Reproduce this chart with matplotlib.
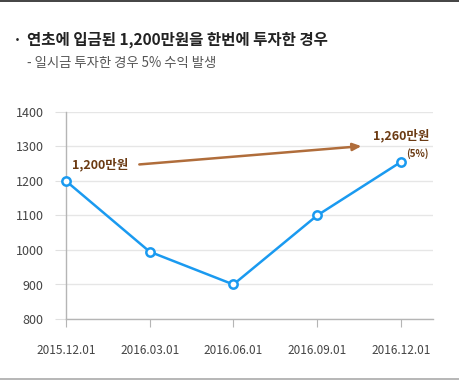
import matplotlib
matplotlib.use("Agg")
import matplotlib.pyplot as plt
from matplotlib.lines import Line2D

plt.rcParams['font.family'] = ['Noto Sans CJK KR', 'DejaVu Sans']

dates = ["2015.12.01", "2016.03.01", "2016.06.01", "2016.09.01", "2016.12.01"]
values = [1200, 995, 900, 1100, 1255]
yticks = [800, 900, 1000, 1100, 1200, 1300, 1400]
title = "연초에 입금된 1,200만원을 한번에 투자한 경우"
subtitle = "- 일시금 투자한 경우 5% 수익 발생"
start_label = "1,200만원"
end_label = "1,260만원"
pct_label = "(5%)"

fig = plt.figure(figsize=(4.6, 3.8), dpi=100)
ax = fig.add_axes([66/460, 1-319/380, (433-66)/460, (319-112)/380])

x = list(range(len(dates)))
ax.plot(x, values, color='#1a9af0', lw=1.8, marker='o', ms=6,
        mfc='white', mec='#1a9af0', mew=1.8, zorder=5, clip_on=False)

ax.set_xlim(0, 4.385)
ax.set_ylim(800, 1400)
ax.set_yticks(yticks)
ax.set_xticks(x)
ax.set_xticklabels(dates)
ax.grid(axis='y', color='#e6e6e6', lw=1)
ax.set_axisbelow(True)
for s in ['top', 'right']:
    ax.spines[s].set_visible(False)
for s in ['left', 'bottom']:
    ax.spines[s].set_color('#b5b5b5')
    ax.spines[s].set_linewidth(1)
ax.tick_params(axis='y', length=8, color='#e0e0e0', pad=8, labelsize=9, labelcolor='#444444')
ax.tick_params(axis='x', length=6, color='#b5b5b5', direction='out', pad=12, labelsize=8.5, labelcolor='#444444')

ax.annotate('', xy=(3.53, 1301), xytext=(0.876, 1248),
            arrowprops=dict(arrowstyle='-|>,head_length=0.5,head_width=0.22',
                            color='#b06d3b', lw=1.8, shrinkA=0, shrinkB=0))
ax.text(0.072, 1247, start_label, ha='left', va='center', fontsize=9,
        fontweight='bold', color='#6b3a12')
ax.text(4.337, 1331, end_label, ha='right', va='center', fontsize=9,
        fontweight='bold', color='#6b3a12')
ax.text(4.337, 1280, pct_label, ha='right', va='center', fontsize=7,
        fontweight='bold', color='#6b3a12')

fig.text(13/460, 1-40/380, "·", ha='left', va='center', fontsize=11, fontweight='bold', color='#222222')
fig.text(27/460, 1-40/380, title, ha='left', va='center', fontsize=11.2, fontweight='bold', color='#222222')
fig.text(27/460, 1-63/380, subtitle, ha='left', va='center', fontsize=9.6, color='#555555')

fig.add_artist(Line2D([0, 1], [1-0.5/380, 1-0.5/380], color='#222222', lw=1.2, transform=fig.transFigure))
fig.add_artist(Line2D([0, 1], [0.8/380, 0.8/380], color='#aaaaaa', lw=1.2, transform=fig.transFigure))

fig.savefig('out.png', dpi=100)
